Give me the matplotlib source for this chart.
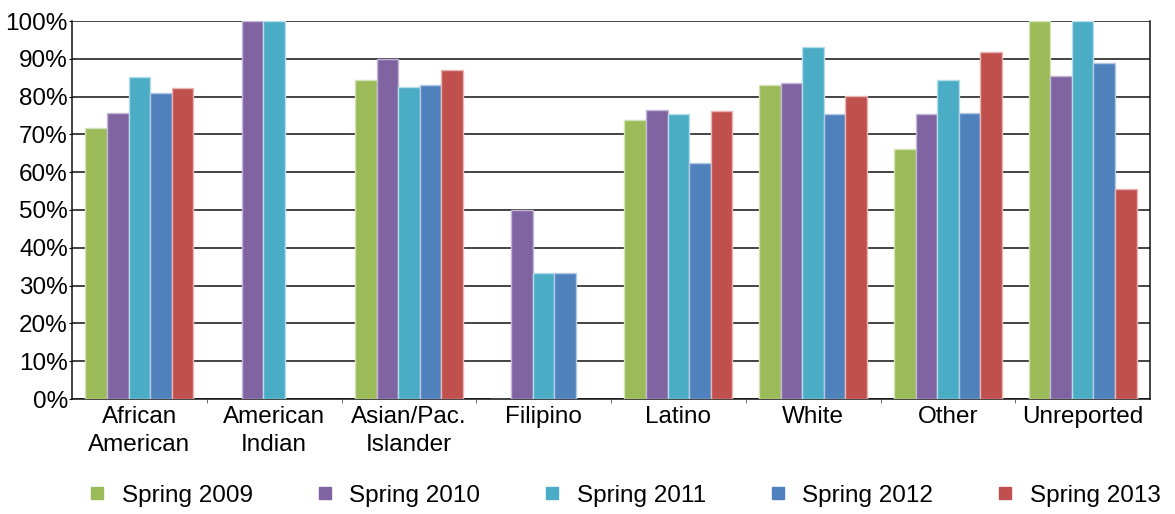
import numpy as np
import matplotlib
matplotlib.use("Agg")
import matplotlib.pyplot as plt
from matplotlib.lines import Line2D
from matplotlib.ticker import FuncFormatter, FixedLocator

plt.rcParams['font.family'] = ['Liberation Sans', 'DejaVu Sans']

categories = ["African\nAmerican", "American\nIndian", "Asian/Pac.\nIslander", "Filipino",
              "Latino", "White", "Other", "Unreported"]
series = ["Spring 2009", "Spring 2010", "Spring 2011", "Spring 2012", "Spring 2013"]
nan = np.nan
spring_2009 = [71.6, nan, 84.4, 0.0, 73.8, 83.0, 66.2, 100.0]
spring_2010 = [75.7, 100.0, 89.9, 50.0, 76.5, 83.6, 75.4, 85.5]
spring_2011 = [85.2, 100.0, 82.5, 33.3, 75.4, 93.2, 84.4, 100.0]
spring_2012 = [81.0, nan, 83.1, 33.3, 62.4, 75.3, 75.7, 88.8]
spring_2013 = [82.2, nan, 87.1, nan, 76.2, 80.2, 91.7, 55.6]
values = [spring_2009, spring_2010, spring_2011, spring_2012, spring_2013]

colors = ["#9BBB59", "#8064A2", "#4BACC6", "#4F81BD", "#C0504D"]
edges = ["#D2E2B5", "#C3B6D6", "#B5DEE9", "#B6C9E3", "#E6B5B4"]

fs = 17.5
fig = plt.figure(figsize=(11.75, 5.14), dpi=100)
ax = fig.add_axes([72 / 1175, 1 - 399 / 514, (1150 - 72) / 1175, (399 - 21) / 514])

x = np.arange(len(categories))
group = 0.8
w = group / len(series)
for i, (vals, c, e) in enumerate(zip(values, colors, edges)):
    offs = -group / 2 + w * (i + 0.5)
    ax.bar(x + offs, vals, width=w, color=c, edgecolor=e, linewidth=1.0, zorder=3)

ax.set_xlim(-0.5, len(categories) - 0.5)
ax.set_ylim(0, 100)
ax.set_yticks(np.arange(0, 101, 10))
ax.yaxis.set_major_formatter(FuncFormatter(lambda v, p: f"{v:.0f}%"))
ax.grid(axis="y", color="#111111", linewidth=1.1, zorder=0)
ax.set_axisbelow(True)

ax.set_xticks(x)
ax.set_xticklabels(categories, fontsize=fs, linespacing=1.35)
ax.xaxis.set_minor_locator(FixedLocator(np.arange(0.5, len(categories) - 1, 1)))
ax.tick_params(axis="x", which="major", length=0, pad=5)
ax.tick_params(axis="x", which="minor", length=3, direction="out", color="#555555")
ax.tick_params(axis="y", length=2, pad=1, labelsize=fs)

for side in ["left", "bottom", "right"]:
    ax.spines[side].set_color("#111111")
    ax.spines[side].set_linewidth(1.1)
ax.spines["top"].set_visible(False)

handles = [Line2D([0], [0], marker="s", linestyle="none", markersize=9,
                  markerfacecolor=c, markeredgecolor=c) for c in colors]
fig.legend(handles, series, loc="center", bbox_to_anchor=(0.5327, 0.036),
           ncol=5, frameon=False, fontsize=fs, handlelength=0.5,
           handletextpad=0.75, columnspacing=2.72, borderpad=0)

fig.savefig("out.png", dpi=100, facecolor="white")
